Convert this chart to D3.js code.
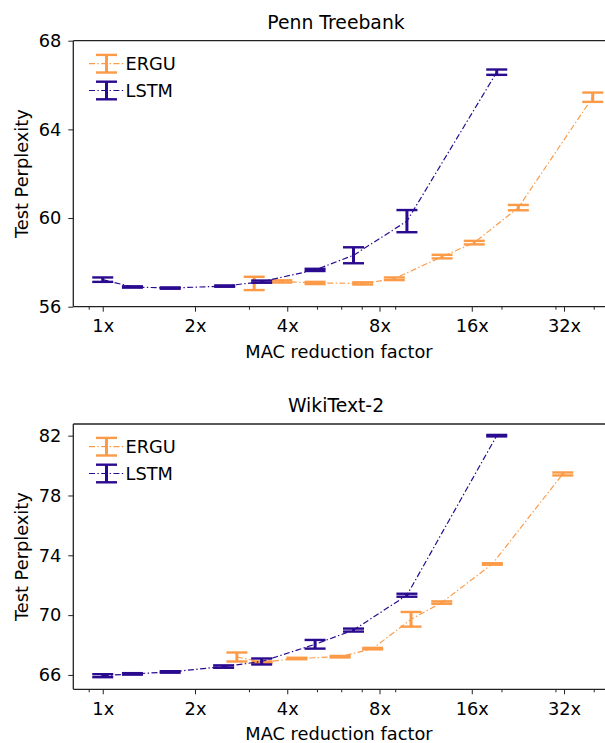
<!DOCTYPE html>
<html>
<head>
<meta charset="utf-8">
<script src="https://cdn.jsdelivr.net/npm/d3@7"></script>
<style>
  html, body { margin: 0; padding: 0; background: #fff; }
  svg { display: block; }
  text { font-family: "DejaVu Sans", sans-serif; fill: #000; }
</style>
</head>
<body>
<svg id="chart" width="605" height="743"></svg>
<script>
// ---------- data ----------
const xTickValues = [1, 2, 4, 8, 16, 32];
const xTickLabels = ["1x", "2x", "4x", "8x", "16x", "32x"];
const xMinorTicks = [0.9, 3, 5, 6, 7, 9, 20, 30, 40];

const seriesNames = ["ERGU", "LSTM"];

// Penn Treebank
const ptbTitle = "Penn Treebank";
const ptbYTicks = [56, 60, 64, 68];
const ptbErguX   = [3.12, 3.84, 4.93, 7.05, 8.94, 12.8, 16.3, 22.7, 39.7];
const ptbErguY   = [57.05, 57.14, 57.07, 57.05, 57.26, 58.26, 58.89, 60.47, 65.45];
const ptbErguErr = [0.30, 0.05, 0.05, 0.05, 0.06, 0.08, 0.08, 0.12, 0.21];
const ptbLstmX   = [1, 1.25, 1.66, 2.5, 3.3, 4.93, 6.58, 9.83, 19.3];
const ptbLstmY   = [57.22, 56.89, 56.84, 56.93, 57.13, 57.66, 58.32, 59.86, 66.58];
const ptbLstmErr = [0.10, 0.03, 0.03, 0.03, 0.05, 0.05, 0.36, 0.50, 0.12];

// WikiText-2
const wikiTitle = "WikiText-2";
const wikiYTicks = [66, 70, 74, 78, 82];
const wikiErguX   = [2.74, 3.31, 4.3, 5.95, 7.6, 10.14, 12.77, 18.67, 31.7];
const wikiErguY   = [67.2, 66.85, 67.1, 67.22, 67.76, 69.72, 70.84, 73.42, 79.44];
const wikiErguErr = [0.30, 0.05, 0.05, 0.05, 0.05, 0.49, 0.08, 0.05, 0.10];
const wikiLstmX   = [1, 1.25, 1.66, 2.48, 3.3, 4.93, 6.58, 9.83, 19.3];
const wikiLstmY   = [65.95, 66.07, 66.2, 66.56, 66.9, 68.05, 69.0, 71.33, 82.0];
const wikiLstmErr = [0.10, 0.05, 0.05, 0.08, 0.20, 0.29, 0.10, 0.10, 0.05];

const xLabel = "MAC reduction factor";
const yLabel = "Test Perplexity";

// ---------- styles ----------
const colors = { ERGU: "#fb9b48", LSTM: "#2a0a8f" };
const FONT = 17.8;

const svg = d3.select("#chart");

function zip(xs, ys, es) { return xs.map((x, i) => ({ x, y: ys[i], e: es[i] })); }

function panel(cfg) {
  const left = 73.3, right = 610;
  const x = d3.scaleLog().base(2).domain([0.8016, 45.2]).range([left, right]);
  const y = d3.scaleLinear().domain(cfg.yDomain).range([cfg.bottom, cfg.top]);
  const g = svg.append("g");

  // frame (top + left + bottom)
  g.append("line").attr("x1", left).attr("x2", right).attr("y1", cfg.top).attr("y2", cfg.top)
    .attr("stroke", "#222").attr("stroke-width", 1.3);

  // y axis
  const yAxis = g.append("g").attr("transform", `translate(${left},0)`)
    .call(d3.axisLeft(y).tickValues(cfg.yTicks).tickFormat(d3.format("d")).tickSize(5).tickPadding(7).tickSizeOuter(0));
  yAxis.select(".domain").attr("stroke", "#222").attr("stroke-width", 1.3)
    .attr("d", `M0,${cfg.top}V${cfg.bottom}`);
  yAxis.selectAll("text").style("font-size", FONT + "px").style("font-family", "DejaVu Sans");

  // x axis major
  const xAxis = g.append("g").attr("transform", `translate(0,${cfg.bottom})`)
    .call(d3.axisBottom(x).tickValues(xTickValues).tickFormat((d, i) => xTickLabels[i]).tickSize(5).tickPadding(8).tickSizeOuter(0));
  xAxis.select(".domain").attr("stroke", "#222").attr("stroke-width", 1.3)
    .attr("d", `M${left},0H${right}`);
  xAxis.selectAll("text").style("font-size", FONT + "px").style("font-family", "DejaVu Sans");
  // x axis minor
  const xMinor = g.append("g").attr("transform", `translate(0,${cfg.bottom})`)
    .call(d3.axisBottom(x).tickValues(xMinorTicks).tickFormat("").tickSize(3).tickSizeOuter(0));
  xMinor.select(".domain").remove();
  g.selectAll(".tick line").attr("stroke", "#222");

  // title & labels
  g.append("text").attr("x", 336).attr("y", cfg.top - 12).attr("text-anchor", "middle")
    .style("font-size", "18.8px").text(cfg.title);
  g.append("text").attr("x", 339).attr("y", cfg.bottom + 44.5).attr("dy", "0.36em").attr("text-anchor", "middle")
    .style("font-size", FONT + "px").text(xLabel);
  g.append("text").attr("transform", `translate(22,${(cfg.top + cfg.bottom) / 2}) rotate(-90)`)
    .attr("dy", "0.36em").attr("text-anchor", "middle").style("font-size", FONT + "px").text(yLabel);

  // series
  const line = d3.line().x(d => x(d.x)).y(d => y(d.y));
  cfg.series.forEach(s => {
    const c = colors[s.name];
    g.append("path").datum(s.data).attr("d", line).attr("fill", "none").attr("stroke", c)
      .attr("stroke-width", 1.2).attr("stroke-dasharray", "6,2.4,1.4,2.4");
    const eb = g.append("g").selectAll("g").data(s.data).join("g");
    eb.append("line").attr("x1", d => x(d.x)).attr("x2", d => x(d.x))
      .attr("y1", d => y(d.y - d.e)).attr("y2", d => y(d.y + d.e))
      .attr("stroke", c).attr("stroke-width", 3);
    [-1, 1].forEach(sg => {
      eb.append("line").attr("x1", d => x(d.x) - 10.5).attr("x2", d => x(d.x) + 10.5)
        .attr("y1", d => y(d.y + sg * d.e)).attr("y2", d => y(d.y + sg * d.e))
        .attr("stroke", c).attr("stroke-width", 2.4);
    });
  });

  // legend
  seriesNames.forEach((name, i) => {
    const c = colors[name];
    const cy = cfg.legendY + i * 26.8;
    const lg = g.append("g");
    lg.append("line").attr("x1", 89).attr("x2", 123.5).attr("y1", cy).attr("y2", cy)
      .attr("stroke", c).attr("stroke-width", 1.2).attr("stroke-dasharray", "6,2.4,1.4,2.4");
    lg.append("line").attr("x1", 106.5).attr("x2", 106.5).attr("y1", cy - 8.8).attr("y2", cy + 8.8)
      .attr("stroke", c).attr("stroke-width", 3);
    [-8.8, 8.8].forEach(off => lg.append("line").attr("x1", 96).attr("x2", 117)
      .attr("y1", cy + off).attr("y2", cy + off).attr("stroke", c).attr("stroke-width", 2.4));
    lg.append("text").attr("x", 125.5).attr("y", cy).attr("dy", "0.36em")
      .style("font-size", FONT + "px").text(name);
  });
}

panel({
  title: ptbTitle, top: 40.7, bottom: 306.7, yDomain: [56, 68], yTicks: ptbYTicks, legendY: 63.7,
  series: [
    { name: "ERGU", data: zip(ptbErguX, ptbErguY, ptbErguErr) },
    { name: "LSTM", data: zip(ptbLstmX, ptbLstmY, ptbLstmErr) }
  ]
});
panel({
  title: wikiTitle, top: 424, bottom: 689.3, yDomain: [65.04, 82.78], yTicks: wikiYTicks, legendY: 446.7,
  series: [
    { name: "ERGU", data: zip(wikiErguX, wikiErguY, wikiErguErr) },
    { name: "LSTM", data: zip(wikiLstmX, wikiLstmY, wikiLstmErr) }
  ]
});
</script>
</body>
</html>
